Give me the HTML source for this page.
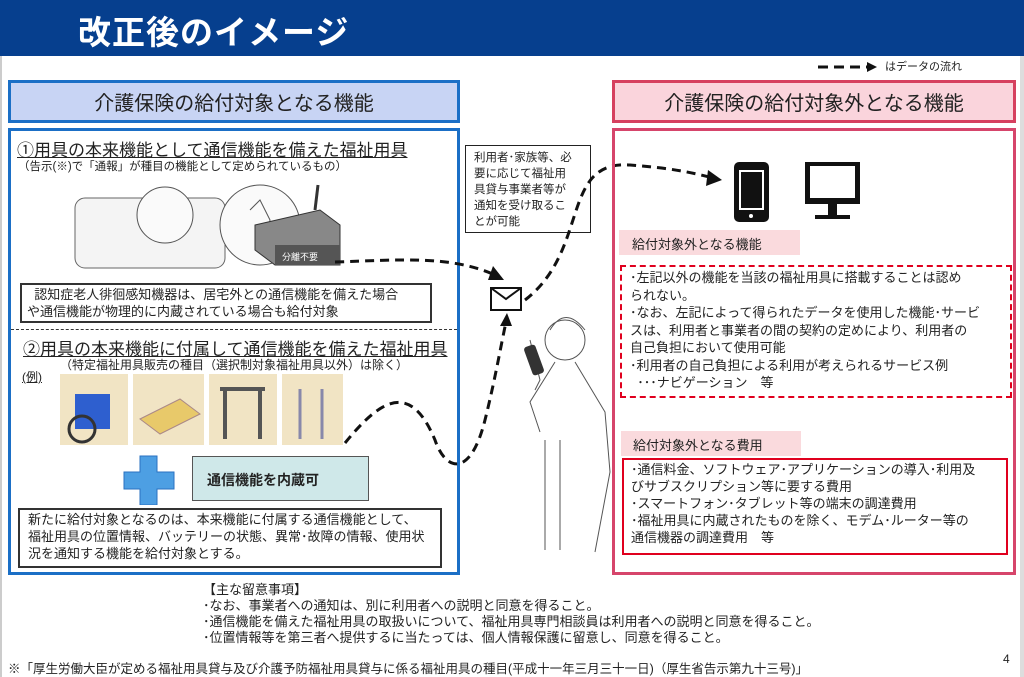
<!DOCTYPE html>
<html><head><meta charset="utf-8"><style>
*{margin:0;padding:0;box-sizing:border-box}
body{width:1024px;height:677px;position:relative;background:#fff;font-family:"Liberation Sans","Noto Sans CJK JP",sans-serif;color:#222;overflow:hidden}
.a{position:absolute}
.t{white-space:nowrap}
</style></head><body>
<div class="a" style="left:0;top:0;width:1024px;height:56px;background:#063f8e"></div>
<div class="a t" style="left:78px;top:6px;font-size:33px;color:#fff;font-weight:bold;letter-spacing:1px">改正後のイメージ</div>
<div class="a" style="left:0;top:56px;width:2px;height:621px;background:#ccc"></div>
<div class="a" style="left:1020px;top:56px;width:4px;height:621px;background:#ddd"></div>

<svg class="a" style="left:815px;top:60px" width="70" height="14"><line x1="3" y1="7" x2="52" y2="7" stroke="#111" stroke-width="3" stroke-dasharray="10,6"/><polygon points="52,2 62,7 52,12" fill="#111"/></svg>
<div class="a t" style="left:885px;top:58px;font-size:11px">はデータの流れ</div>

<div class="a" style="left:8px;top:80px;width:452px;height:43px;background:#c8d4f4;border:3px solid #1b6fc6"></div>
<div class="a t" style="left:8px;top:87px;width:452px;text-align:center;font-size:20px">介護保険の給付対象となる機能</div>
<div class="a" style="left:8px;top:128px;width:452px;height:447px;border:3px solid #1b6fc6"></div>
<div class="a t" style="left:17px;top:136px;font-size:17px;text-decoration:underline">①用具の本来機能として通信機能を備えた福祉用具</div>
<div class="a t" style="left:18px;top:158px;font-size:11.5px">（告示(※)で「通報」が種目の機能として定められているもの）</div>
<svg class="a" style="left:70px;top:170px" width="300" height="110">
<rect x="5" y="28" width="150" height="70" rx="10" fill="#f4f4f4" stroke="#666"/>
<circle cx="95" cy="45" r="28" fill="#fafafa" stroke="#555"/>
<circle cx="190" cy="55" r="40" fill="#fafafa" stroke="#555"/>
<path d="M180 40 l10 -10 l10 20 l-5 30" stroke="#555" fill="none"/>
<polygon points="185,55 250,40 270,55 270,95 205,95 185,80" fill="#888" stroke="#333"/>
<rect x="205" y="75" width="65" height="20" fill="#555"/>
<line x1="245" y1="40" x2="248" y2="15" stroke="#333" stroke-width="3"/>
<text x="212" y="90" font-size="9" fill="#fff">分離不要</text>
</svg>
<div class="a" style="left:20px;top:283px;width:412px;height:40px;border:2px solid #333"></div>
<div class="a t" style="left:27px;top:286px;font-size:13px;line-height:17px">&nbsp;&nbsp;認知症老人徘徊感知機器は、居宅外との通信機能を備えた場合<br>や通信機能が物理的に内蔵されている場合も給付対象</div>
<div class="a" style="left:11px;top:329px;width:446px;border-top:1px dashed #333"></div>
<div class="a t" style="left:23px;top:335px;font-size:17px;text-decoration:underline">②用具の本来機能に付属して通信機能を備えた福祉用具</div>
<div class="a t" style="left:60px;top:356px;font-size:12px">（特定福祉用具販売の種目（選択制対象福祉用具以外）は除く）</div>
<div class="a t" style="left:22px;top:368px;font-size:12px;text-decoration:underline">(例)</div>
<div class="a" style="left:60px;top:374px;width:68px;height:71px;background:#f1e4c4"></div>
<div class="a" style="left:133px;top:374px;width:71px;height:71px;background:#f1e4c4"></div>
<div class="a" style="left:209px;top:374px;width:68px;height:71px;background:#f1e4c4"></div>
<div class="a" style="left:282px;top:374px;width:61px;height:71px;background:#f1e4c4"></div>
<svg class="a" style="left:60px;top:374px" width="285" height="72">
<rect x="15" y="20" width="35" height="35" fill="#2e5fcf"/><circle cx="22" cy="55" r="13" fill="none" stroke="#333" stroke-width="3"/>
<path d="M80 45 l40 -20 l20 15 l-40 20z" fill="#e8c96a" stroke="#a88"/>
<path d="M160 15 h45 M165 15 v50 M200 15 v50" stroke="#555" stroke-width="4" fill="none"/>
<path d="M240 15 v50 M262 15 v50" stroke="#88a" stroke-width="3"/>
</svg>
<svg class="a" style="left:123px;top:455px" width="52" height="50"><path d="M17 1h17v16h17v17h-17v16h-17v-16h-16v-17h16z" fill="#4d9fe3" stroke="#2a72c0"/></svg>
<div class="a" style="left:192px;top:456px;width:177px;height:45px;background:#cfe8e9;border:1px solid #555"></div>
<div class="a t" style="left:207px;top:470px;font-size:14px;font-weight:bold">通信機能を内蔵可</div>
<div class="a" style="left:18px;top:508px;width:424px;height:60px;border:2px solid #333"></div>
<div class="a t" style="left:28px;top:511px;font-size:13px;line-height:17px">新たに給付対象となるのは、本来機能に付属する通信機能として、<br>福祉用具の位置情報、バッテリーの状態、異常･故障の情報、使用状<br>況を通知する機能を給付対象とする。</div>

<div class="a" style="left:465px;top:145px;width:126px;height:88px;border:1.5px solid #222"></div>
<div class="a t" style="left:474px;top:150px;font-size:11.5px;line-height:16px">利用者･家族等、必<br>要に応じて福祉用<br>具貸与事業者等が<br>通知を受け取るこ<br>とが可能</div>
<svg class="a" style="left:0;top:0" width="1024" height="677">
<g fill="none" stroke="#111" stroke-width="3" stroke-dasharray="9,6">
<path d="M335 262 C 400 260, 450 255, 495 275"/>
<path d="M525 300 C 590 250, 560 160, 630 165 C 670 168, 690 172, 713 178"/>
<path d="M345 443 C 380 400, 410 380, 435 440 C 445 470, 470 480, 485 420 C 495 380, 500 350, 506 322"/>
</g>
<polygon points="493,266 504,280 488,280" fill="#111"/>
<polygon points="722,180 708,170 706,186" fill="#111"/>
<polygon points="507,313 500,326 512,326" fill="#111"/>
<rect x="491" y="288" width="30" height="22" fill="#fff" stroke="#111" stroke-width="2"/>
<path d="M491 288 l15 11 l15 -11" fill="none" stroke="#111" stroke-width="2"/>
<g fill="none" stroke="#555" stroke-width="1">
<circle cx="565" cy="340" r="20"/>
<path d="M550 330 q15 -25 35 0"/>
<path d="M555 362 l-25 40 l10 30 M575 362 l30 50 l5 60 l-15 80 M545 440 l0 110 M560 440 l0 110"/>
<path d="M530 340 l10 40 l-5 10"/>
</g>
<rect x="528" y="345" width="12" height="30" rx="3" fill="#333" transform="rotate(-20 534 360)"/>
<rect x="734" y="162" width="35" height="60" rx="5" fill="#111"/>
<rect x="739" y="170" width="25" height="40" fill="#fff"/><rect x="741" y="172" width="21" height="36" fill="#111"/>
<circle cx="751" cy="216" r="2" fill="#fff"/>
<rect x="805" y="162" width="55" height="42" fill="#111"/><rect x="810" y="166" width="45" height="32" fill="#fff"/>
<rect x="828" y="204" width="9" height="12" fill="#111"/><rect x="815" y="215" width="35" height="4" fill="#111"/>
</svg>

<div class="a" style="left:612px;top:80px;width:404px;height:43px;background:#fad4dc;border:3px solid #d6405f"></div>
<div class="a t" style="left:612px;top:87px;width:404px;text-align:center;font-size:20px">介護保険の給付対象外となる機能</div>
<div class="a" style="left:612px;top:128px;width:404px;height:447px;border:3px solid #d6456b"></div>
<div class="a" style="left:619px;top:230px;width:181px;height:25px;background:#fadadd"></div>
<div class="a t" style="left:632px;top:234px;font-size:13px">給付対象外となる機能</div>
<div class="a" style="left:620px;top:265px;width:392px;height:133px;border:2.5px dashed #e0001e"></div>
<div class="a t" style="left:630px;top:269px;font-size:13px;line-height:17.5px">･左記以外の機能を当該の福祉用具に搭載することは認め<br>られない。<br>･なお、左記によって得られたデータを使用した機能･サービ<br>スは、利用者と事業者の間の契約の定めにより、利用者の<br>自己負担において使用可能<br>･利用者の自己負担による利用が考えられるサービス例<br>&nbsp;&nbsp;･･･ナビゲーション　等</div>
<div class="a" style="left:621px;top:431px;width:180px;height:25px;background:#fadadd"></div>
<div class="a t" style="left:633px;top:435px;font-size:13px">給付対象外となる費用</div>
<div class="a" style="left:622px;top:458px;width:386px;height:97px;border:2px solid #e0001e"></div>
<div class="a t" style="left:631px;top:461px;font-size:13px;line-height:17px">･通信料金、ソフトウェア･アプリケーションの導入･利用及<br>びサブスクリプション等に要する費用<br>･スマートフォン･タブレット等の端末の調達費用<br>･福祉用具に内蔵されたものを除く、モデム･ルーター等の<br>通信機器の調達費用　等</div>

<div class="a t" style="left:203px;top:582px;font-size:13px;line-height:16px">【主な留意事項】<br>･なお、事業者への通知は、別に利用者への説明と同意を得ること。<br>･通信機能を備えた福祉用具の取扱いについて、福祉用具専門相談員は利用者への説明と同意を得ること。<br>･位置情報等を第三者へ提供するに当たっては、個人情報保護に留意し、同意を得ること。</div>
<div class="a t" style="left:8px;top:658px;font-size:12.5px">※「厚生労働大臣が定める福祉用具貸与及び介護予防福祉用具貸与に係る福祉用具の種目(平成十一年三月三十一日)（厚生省告示第九十三号)」</div>
<div class="a t" style="left:1003px;top:652px;font-size:12px">4</div>
</body></html>
